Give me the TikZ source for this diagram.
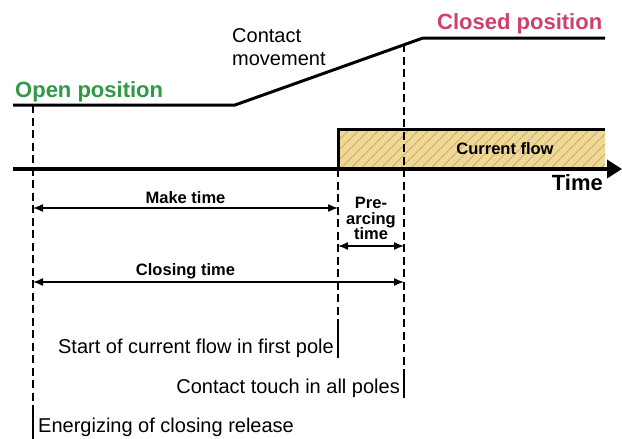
\documentclass[tikz,border=0pt]{standalone}
\usepackage{fontspec}
\setmainfont{Liberation Sans}
\usetikzlibrary{arrows.meta}

\definecolor{opengreen}{HTML}{2E9A47}
\definecolor{closedpink}{HTML}{D0406E}
\definecolor{flowfill}{HTML}{F0D892}
\definecolor{hatchline}{HTML}{B39E70}

\begin{document}
\begin{tikzpicture}[x=1pt, y=-1pt,
  guide/.style={line width=1.5pt, dash pattern=on 8pt off 4.5pt},
  tickbar/.style={line width=1.5pt},
  dim/.style={line width=1.4pt, {Latex[length=10pt,width=8pt]}-{Latex[length=10pt,width=8pt]}},
  title/.style={font=\fontsize{22}{24}\selectfont\bfseries, inner sep=0pt},
  label/.style={font=\fontsize{16.5}{15.5}\selectfont\bfseries, inner sep=0pt, align=center},
  note/.style={font=\fontsize{20}{23}\selectfont, inner sep=0pt, align=left}]

  \useasboundingbox (0,0) rectangle (622,439);

  % Time instants
  \def\te{33}   % Energizing of closing release
  \def\ts{338}  % Start of current flow
  \def\tc{404}  % Contact touch

  % Contact travel curve
  \coordinate (o0) at (13,105);
  \coordinate (o1) at (235,105);
  \coordinate (c0) at (423,38);
  \coordinate (c1) at (605,38);
  \draw[line width=3pt] (o0) -- (o1) -- (c0) -- (c1);

  % Current flow band
  \fill[flowfill] (\ts,129) rectangle (605,169);
  \begin{scope}
    \clip (\ts,129) rectangle (605,169);
    \foreach \x in {290,300,...,610}
      \draw[hatchline, line width=0.5pt] (\x,169) -- ++(40,-40);
  \end{scope}
  \draw[line width=3pt] (\ts,169) -- (\ts,129) -- (605,129);

  % Time axis
  \coordinate (ax0) at (13,169);
  \coordinate (ax1) at (622,169);
  \draw[line width=3.5pt, -{Triangle[length=15pt,width=18pt]}] (ax0) -- (ax1);

  % Guide lines
  \draw[guide] (\te,105) -- (\te,413);
  \draw[guide] (\ts,169) -- (\ts,327);
  \draw[guide] (\tc,44) -- (\tc,372);
  \draw[tickbar] (\te,413) -- (\te,439);
  \draw[tickbar] (\ts,327) -- (\ts,358);
  \draw[tickbar] (\tc,372) -- (\tc,398);

  % Titles
  \node[title, text=opengreen, anchor=base west] (open) at (15,97) {Open position};
  \node[title, text=closedpink, anchor=base west] (closed) at (437,30) {Closed position};
  \node[note, anchor=base west] (move) at (232,65) {Contact\\movement};
  \node[title, anchor=base east] (timelbl) at (603,190) {Time};
  \node[label] (flow) at (505,149) {Current flow};

  % Time spans
  \coordinate (mk0) at (\te,208);
  \coordinate (mk1) at (\ts,208);
  \coordinate (pa0) at (\ts,246);
  \coordinate (pa1) at (\tc,246);
  \coordinate (cl0) at (\te,282);
  \coordinate (cl1) at (\tc,282);
  \draw[dim] (mk0) -- (mk1);
  \draw[dim] (pa0) -- (pa1);
  \draw[dim] (cl0) -- (cl1);
  \node[label, anchor=base] (make) at (185.5,203) {Make time};
  \node[label, anchor=south] (prearc) at (371,240) {Pre-\\arcing\\time};
  \node[label, anchor=base] (closing) at (185.5,275) {Closing time};

  % Instants
  \node[note, anchor=base east] (start) at (334,353) {Start of current flow in first pole};
  \node[note, anchor=base east] (touch) at (400,393) {Contact touch in all poles};
  \node[note, anchor=base west] (energize) at (38,432) {Energizing of closing release};

\end{tikzpicture}
\end{document}
